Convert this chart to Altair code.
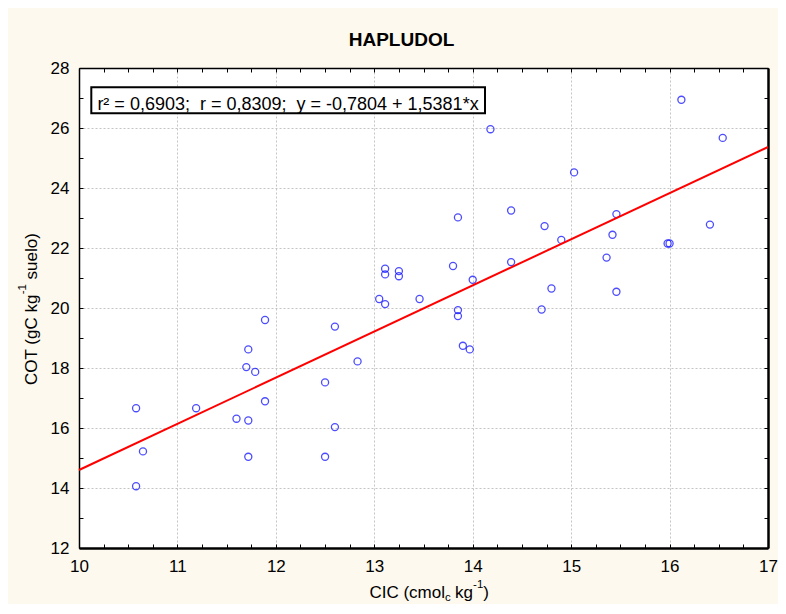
import altair as alt
import pandas as pd

# ---- data ----
cic = [14.18, 16.12, 16.54, 15.03, 13.85, 14.39, 15.46, 14.73, 16.41, 14.90,
       15.42, 15.98, 16.00, 15.36, 13.80, 14.39, 14.00, 14.80, 15.46, 13.46,
       13.85, 13.85, 14.70, 13.90, 13.97,
       13.11, 13.11, 13.25, 13.25, 13.05, 13.11,
       11.89, 12.60, 11.72, 11.70, 11.79, 12.83, 12.50, 11.89, 10.58, 11.19,
       11.60, 11.72, 12.60, 10.65, 11.72, 12.50, 10.58]
cot = [25.96, 26.94, 25.67, 24.52, 23.02, 23.25, 23.13, 22.73, 22.78, 22.27,
       22.44, 22.15, 22.15, 21.68, 21.40, 21.53, 20.94, 20.65, 20.54, 20.30,
       19.93, 19.73, 19.95, 18.74, 18.62,
       21.31, 21.12, 21.23, 21.06, 20.30, 20.13,
       19.60, 19.38, 18.62, 18.03, 17.87, 18.22, 17.52, 16.89, 16.66, 16.66,
       16.31, 16.25, 16.03, 15.22, 15.04, 15.04, 14.06]

intercept = -0.7804
slope = 1.5381
line_x = [10, 17]
line_y = [intercept + slope * v for v in line_x]

x_major = [10, 11, 12, 13, 14, 15, 16, 17]
y_major = [12, 14, 16, 18, 20, 22, 24, 26, 28]
x_minor = [10 + 0.25 * i for i in range(29)]
y_minor = list(range(12, 29))

title_text = ["HAPLUDOL"]
stats_text = ["r\u00b2 = 0,6903;\u00a0\u00a0r = 0,8309;\u00a0\u00a0y = -0,7804 + 1,5381*x"]
xt_main1, xt_sub, xt_main2, xt_sup, xt_main3 = "CIC (cmol", "c", "kg", "-1", ")"
yt_main1, yt_sup, yt_main2 = "COT (gC kg", "-1", "suelo)"

# ---- layout ----
W, H = 689, 480
PL, PT, PR, PB = 71, 60, 10, 56
FONT = "Liberation Sans"
BIG, SMALL = 17, 11.5

pts = pd.DataFrame({"CIC": cic, "COT": cot})
line_df = pd.DataFrame({"CIC": line_x, "COT": line_y})

xs = alt.Scale(domain=[10, 17], nice=False, zero=False)
ys = alt.Scale(domain=[12, 28], nice=False, zero=False)

lab = dict(grid=True, gridColor="#c4c4c4", gridDash=[2, 2], gridWidth=1,
           ticks=False, labelFontSize=BIG, labelColor="black", labelFont=FONT,
           title=None, labelPadding=10, labelFlush=False, format="d",
           domain=True, domainColor="black")

points = alt.Chart(pts).mark_point(
    shape="circle", filled=False, color="#0000ff", size=50, strokeWidth=1.3
).encode(
    x=alt.X("CIC:Q", scale=xs, axis=alt.Axis(orient="bottom", values=x_major, domainWidth=2.5, **lab)),
    y=alt.Y("COT:Q", scale=ys, axis=alt.Axis(orient="left", values=y_major, domainWidth=1.5, **lab)),
)

tk = dict(labels=False, grid=False, ticks=True, tickSize=4, tickColor="black",
          tickWidth=1, title=None)

reg = alt.Chart(line_df).mark_line(color="#ff0000", strokeWidth=2).encode(
    x=alt.X("CIC:Q", scale=xs, axis=alt.Axis(orient="top", offset=-H, values=x_minor, domain=False, **tk)),
    y=alt.Y("COT:Q", scale=ys, axis=alt.Axis(orient="right", offset=-W, values=y_minor, domain=False, **tk)),
)

ghost = alt.Chart(pts).mark_point(opacity=0).encode(
    x=alt.X("CIC:Q", scale=xs, axis=alt.Axis(orient="bottom", offset=-H, values=x_minor,
                                              domain=True, domainColor="black", domainWidth=1.5, **tk)),
    y=alt.Y("COT:Q", scale=ys, axis=alt.Axis(orient="left", offset=-W, values=y_minor,
                                              domain=True, domainColor="black", domainWidth=2.5, **tk)),
)

one = pd.DataFrame({"k": [0]})

box = alt.Chart(one).mark_rect(fill="white", stroke="black", strokeWidth=2).encode(
    x=alt.value(12.3), x2=alt.value(406), y=alt.value(19.3), y2=alt.value(45.3)
)


def txt(s, x, y, size=BIG, align="left", angle=0, weight="normal"):
    return alt.Chart(pd.DataFrame({"t": [s]})).mark_text(
        font=FONT, fontSize=size, fontWeight=weight, align=align,
        baseline="alphabetic", angle=angle, color="black"
    ).encode(x=alt.value(x), y=alt.value(y), text="t:N")


title = txt(title_text[0], 322.5, -22, size=19, align="center", weight="bold")
stats = txt(stats_text[0], 209, 42, size=18, align="center")

xb = 530
xt = [
    txt(xt_main1, 290.4, xb),
    txt(xt_sub, 365.9, xb + 3, size=SMALL),
    txt(xt_main2, 376.1, xb),
    txt(xt_sup, 394.1, xb - 10, size=SMALL),
    txt(xt_main3, 404.3, xb),
]
yx = -42.3
yt = [
    txt(yt_main1, yx, 317, angle=270),
    txt(yt_sup, yx - 10.5, 226.3, size=SMALL, angle=270),
    txt(yt_main2, yx, 211.4, angle=270),
]

chart = alt.layer(points, reg, ghost, box, stats, title, *xt, *yt).resolve_axis(
    x="independent", y="independent"
).properties(
    width=W, height=H,
    autosize=alt.AutoSizeParams(type="none"),
    padding={"left": PL, "top": PT, "right": PR, "bottom": PB},
    background="#fdf9ee",
).configure_view(fill="white", stroke="transparent")

chart.save("out.html", embed_options={"renderer": "svg", "actions": False})
